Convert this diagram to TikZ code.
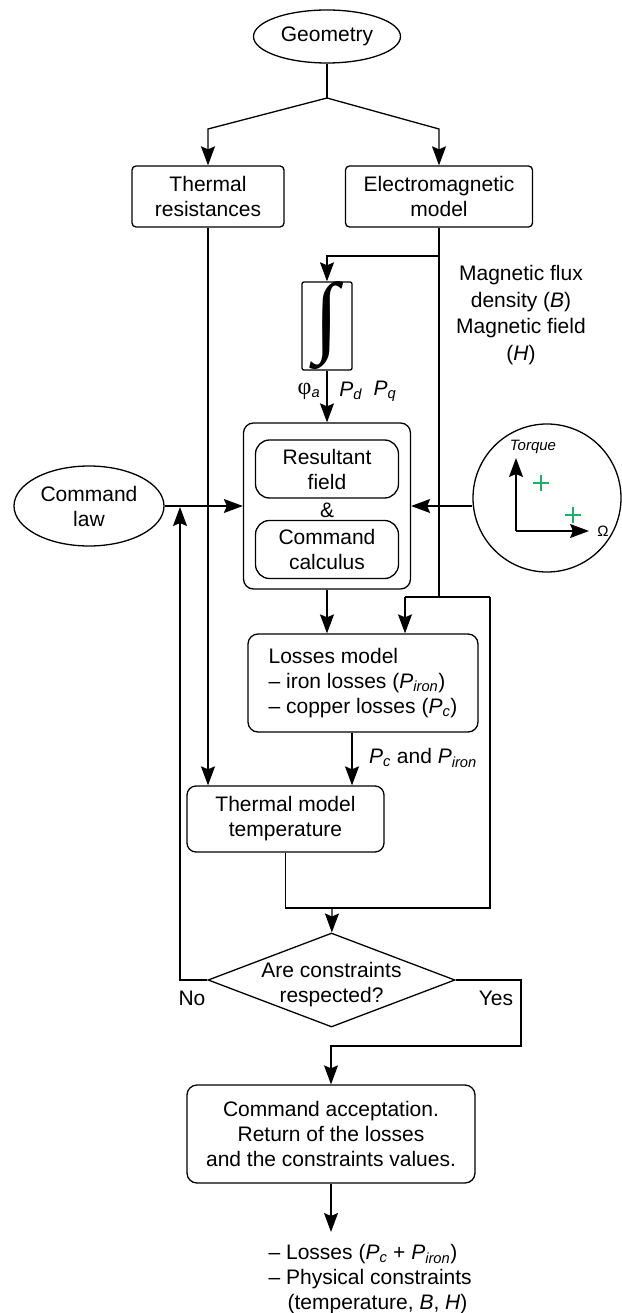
\documentclass[tikz,border=0pt]{standalone}
\usepackage{fontspec}
\setmainfont{Liberation Sans}
\newfontfamily\greekserif{Liberation Serif}
\usetikzlibrary{shapes.geometric,arrows.meta}
\definecolor{plusgreen}{RGB}{30,175,100}
\newcommand{\Pvar}[1]{\textit{P}\textsubscript{\textit{#1}}}
\begin{document}
\begin{tikzpicture}[x=1pt,y=-1pt,line width=1.3pt,
  font=\fontsize{21}{25}\selectfont,
  arr/.style={-{Stealth[length=19pt,width=14pt,inset=3pt]}},
  block/.style={draw,rectangle,rounded corners=4pt,align=center,inner sep=0pt},
  soft/.style={draw,rectangle,rounded corners=10pt,align=center,inner sep=0pt},
  inner/.style={draw,rectangle,rounded corners=14pt,align=center,inner sep=0pt,
    minimum width=143pt,minimum height=58pt},
  bubble/.style={draw,ellipse,align=center,inner sep=0pt}]
  \useasboundingbox (0,0) rectangle (621,1313);
  \node[bubble,minimum width=147pt,minimum height=53pt] (geo) at (327,36.5) {Geometry};
  \node[block,minimum width=152pt,minimum height=61pt] (thres) at (208,196.5)
    {Thermal\\resistances};
  \node[block,minimum width=187pt,minimum height=61pt] (emod) at (439,196.5)
    {Electromagnetic\\model};
  \coordinate (fork) at (327,98);
  \coordinate (forkL) at (208,129);
  \coordinate (forkR) at (439,129);
  \draw (geo) -- (fork);
  \draw[arr] (fork) -- (forkL) -- (thres);
  \draw[arr] (fork) -- (forkR) -- (emod);
  \node[draw,rounded corners=2pt,minimum width=50pt,minimum height=82pt,inner sep=0pt]
    (integ) at (327,326) {\resizebox{!}{64pt}{\greekserif ∫}};
  \coordinate (emtap) at (439,256);
  \draw[arr] (emtap) -| (integ);
  \node[align=center,font=\fontsize{21}{26.7}\selectfont] (bhnote) at (521,315)
    {Magnetic flux\\density (\textit{B})\\Magnetic field\\(\textit{H})};
  \node[soft,minimum width=167pt,minimum height=166pt] (solver) at (327,506) {};
  \node[inner] (resf) at (327,469) {Resultant\\field};
  \node (amp) at (327,510) {\&};
  \node[inner] (ccalc) at (327,549.5) {Command\\calculus};
  \draw[arr] (integ) -- (solver);
  \node (phia) at (309,391) {{\greekserif\fontsize{24}{24}\selectfont φ}\textsubscript{\textit{a}}};
  \node (pd) at (351,391) {\Pvar{d}};
  \node (pq) at (385,391) {\Pvar{q}};
  \node[bubble,minimum width=150pt,minimum height=80pt] (cmdlaw) at (89,506)
    {Command\\law};
  \draw[arr] (cmdlaw) -- (solver);
  \node[draw,circle,minimum size=148pt,inner sep=0pt] (torq) at (547,498) {};
  \draw[arr] (solver.east -| torq.west) -- (solver.east);
  \coordinate (org) at (516,531);
  \coordinate (tqtip) at (516,458);
  \coordinate (omtip) at (589,531);
  \draw[arr] (org) -- (tqtip);
  \draw[arr] (org) -- (omtip);
  \node[font=\fontsize{15}{15}\selectfont\itshape] (tqlabel) at (533,447) {Torque};
  \node[font=\fontsize{15}{15}\selectfont] (omlabel) at (603,531) {Ω};
  \foreach \px/\py in {541/483,573/515}
    \draw[plusgreen,line width=1.3pt] ({\px-8},\py) -- ({\px+8},\py)
      (\px,{\py-8}) -- (\px,{\py+8});
  \coordinate (bhtap) at (439,597);
  \coordinate (bhL) at (405,597);
  \coordinate (bhR) at (490,597);
  \draw (emod) -- (bhtap);
  \draw (bhL) -- (bhR);
  \node[soft,align=left,minimum width=230pt,minimum height=98pt] (loss) at (363,683)
    {Losses model\\– iron losses (\Pvar{iron})\\– copper losses (\Pvar{c})};
  \draw[arr] (solver) -- (solver |- loss.north);
  \draw[arr] (bhL) -- (bhL |- loss.north);
  \node[soft,rounded corners=9pt,minimum width=197pt,minimum height=66pt] (thmod)
    at (285.5,819) {Thermal model\\temperature};
  \draw[arr] (thres) -- (thres |- thmod.north);
  \draw[arr] ([xshift=-11pt]loss.south) -- ([xshift=-11pt]loss.south |- thmod.north);
  \node (pcpi) at (423,758) {\Pvar{c} and \Pvar{iron}};
  \coordinate (merge) at (332,908);
  \draw (thmod) |- (bhR |- merge) -- (bhR);
  \node[draw,diamond,aspect=2.63,minimum width=247pt,minimum height=94pt,inner sep=0pt,
    label={[align=center,yshift=-5pt]center:Are constraints\\respected?}]
    (dec) at (331.5,980) {};
  \draw[arr] (merge) -- (dec);
  \coordinate (fbtop) at (180,507);
  \draw[arr] (dec) -| (fbtop);
  \node (nolab) at (192,998) {No};
  \node (yeslab) at (496,998) {Yes};
  \node[soft,minimum width=288pt,minimum height=98pt] (accept) at (331,1134)
    {Command acceptation.\\Return of the losses\\and the constraints values.};
  \coordinate (yesK) at (521,1046);
  \draw[arr] (dec) -| (yesK) -| (accept);
  \coordinate (outtip) at (331,1232);
  \draw[arr] (accept) -- (outtip);
  \node[align=left,anchor=north west,inner sep=0pt] (outp) at (268,1244)
    {– Losses (\Pvar{c} + \Pvar{iron})\\– Physical constraints\\
     \hspace*{19pt}(temperature, \textit{B}, \textit{H})};
\end{tikzpicture}
\end{document}
